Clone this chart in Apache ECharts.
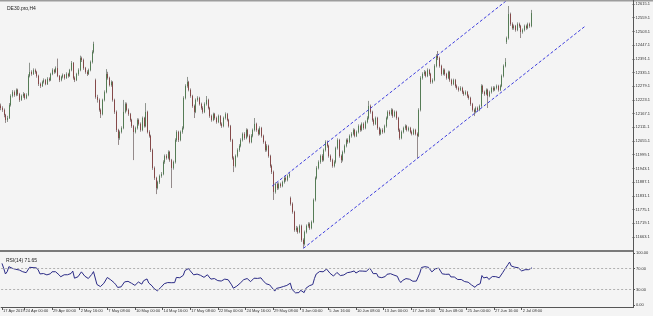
<!DOCTYPE html>
<html><head><meta charset="utf-8">
<script src="https://cdn.jsdelivr.net/npm/echarts@6/dist/echarts.min.js"></script>
<style>html,body{margin:0;padding:0;background:#f4f4f4}#c{width:653px;height:316px}</style>
</head><body><div id="c"></div>
<script>
const symbolTitle = 'DE30.pro,H4';
const rsiTitle = 'RSI(14) 71.65';
const slotCount = 366;
const dateLabels = ['17 Apr 2019','24 Apr 00:00','29 Apr 00:00','2 May 16:00','7 May 08:00','10 May 00:00','14 May 16:00','17 May 08:00','22 May 00:00','24 May 16:00','29 May 08:00','3 Jun 00:00','5 Jun 16:00','10 Jun 08:00','13 Jun 00:00','17 Jun 16:00','20 Jun 08:00','25 Jun 00:00','27 Jun 16:00','2 Jul 08:00'];
const dateLabelBars = [0,13,29,45,61,77,93,109,125,141,157,173,189,205,221,237,253,269,285,301];
const priceTicks = [11663.1,11719.1,11775.1,11831.1,11887.1,11943.1,11999.1,12055.1,12111.1,12167.1,12223.1,12279.1,12335.1,12391.1,12447.1,12503.1,12559.1,12615.1];
const rsiTicks = [0,30,70,100];
const rsiLevels = [30,70];
const upperChannel = [[157,11871],[338,12883]];
const lowerChannel = [[175,11616],[338,12524]];
// RSI readings of the first 14 bars (history before the visible window is not available)
const rsiLead = [80,70.5,59.6,64,73.7,74.7,70.5,72.4,68.6,70.5,67.3,66,64,66];

const opens = [
12200,12190,12182,12161,12141,12149,12202,12239,12255,12243,12264,12247,12223,12239,12247,12231,
12243,12321,12337,12329,12345,12337,12321,12288,12280,12296,12304,12288,12309,12304,12329,12345,
12337,12353,12321,12304,12317,12325,12313,12329,12321,12345,12374,12313,12304,12329,12345,12394,
12386,12353,12337,12329,12345,12378,12419,12304,12235,12223,12182,12165,12223,12255,12329,12313,
12284,12296,12223,12174,12100,12067,12092,12108,12174,12206,12182,12165,12141,12116,12092,12108,
12141,12125,12100,12149,12116,12174,12092,12076,12018,11945,11904,11863,11887,11912,11920,11969,
11994,11986,12010,11977,11945,11969,12059,12092,12059,12092,12108,12231,12280,12296,12264,12239,
12198,12174,12223,12231,12206,12190,12174,12206,12223,12190,12157,12141,12165,12149,12133,12157,
12125,12116,12149,12165,12141,12116,12059,11986,11953,11994,12018,12035,12059,12084,12067,12100,
12076,12051,12076,12100,12125,12100,12084,12108,12076,12051,12018,12035,11994,11953,11928,11847,
11879,11863,11879,11871,11887,11904,11896,11912,11822,11798,11765,11691,11699,11683,11708,11650,
11634,11683,11708,11716,11699,11724,11814,11904,11945,11969,11994,11977,12018,12051,12035,11994,
11977,11953,11969,12026,12059,11994,11977,12010,12035,12059,12051,12076,12084,12100,12076,12092,
12116,12100,12125,12108,12133,12149,12198,12174,12141,12125,12149,12108,12084,12100,12092,12116,
12149,12174,12165,12182,12157,12174,12149,12100,12067,12092,12108,12116,12100,12108,12092,12084,
12100,12084,12076,12182,12313,12329,12337,12321,12345,12329,12296,12304,12362,12403,12394,12362,
12329,12345,12329,12313,12337,12304,12288,12304,12280,12272,12264,12272,12255,12247,12255,12239,
12231,12206,12182,12174,12190,12182,12198,12280,12255,12247,12264,12239,12255,12272,12264,12272,
12280,12264,12280,12321,12362,12460,12476,12574,12533,12517,12525,12509,12533,12525,12501,12509,
12525,12517,12533,12525];
const closes = [
12190,12182,12161,12141,12149,12202,12239,12255,12243,12264,12247,12223,12239,12247,12231,12243,
12321,12337,12329,12345,12337,12321,12288,12280,12296,12304,12288,12309,12304,12329,12345,12337,
12353,12321,12304,12317,12325,12313,12329,12321,12345,12374,12313,12304,12329,12345,12394,12386,
12353,12337,12329,12345,12378,12419,12452,12235,12223,12182,12165,12223,12255,12329,12313,12284,
12296,12223,12174,12100,12067,12092,12108,12174,12206,12182,12165,12141,12116,12092,12108,12141,
12125,12100,12149,12116,12174,12092,12076,12018,11945,11904,11863,11887,11912,11920,11969,11994,
11986,12010,11977,11945,11969,12059,12092,12059,12092,12108,12231,12280,12296,12264,12239,12198,
12174,12223,12231,12206,12190,12174,12206,12223,12190,12157,12141,12165,12149,12133,12157,12125,
12116,12149,12165,12141,12116,12059,11986,11953,11994,12018,12035,12059,12084,12067,12100,12076,
12051,12076,12100,12125,12100,12084,12108,12076,12051,12018,12035,11994,11953,11928,11847,11879,
11863,11879,11871,11887,11904,11896,11912,11920,11798,11765,11691,11699,11683,11708,11650,11634,
11683,11708,11716,11699,11724,11814,11904,11945,11969,11994,11977,12018,12051,12035,11994,11977,
11953,11969,12026,12059,11994,11977,12010,12035,12059,12051,12076,12084,12100,12076,12092,12116,
12100,12125,12108,12133,12149,12198,12174,12141,12125,12149,12108,12084,12100,12092,12116,12149,
12174,12165,12182,12157,12174,12149,12100,12067,12092,12108,12116,12100,12108,12092,12084,12100,
12084,12076,12182,12313,12329,12337,12321,12345,12329,12296,12304,12362,12403,12394,12362,12329,
12345,12329,12313,12337,12304,12288,12304,12280,12272,12264,12272,12255,12247,12255,12239,12231,
12206,12182,12174,12190,12182,12198,12280,12255,12247,12264,12239,12255,12272,12264,12272,12280,
12264,12280,12321,12362,12378,12476,12574,12533,12517,12525,12509,12533,12525,12501,12509,12525,
12517,12533,12525,12578];
const lows = [
12181,12174,12152,12129,12133,12145,12196,12233,12236,12238,12240,12215,12219,12232,12224,12226,
12238,12315,12322,12325,12330,12314,12280,12272,12276,12290,12283,12284,12298,12300,12324,12330,
12332,12316,12296,12299,12311,12306,12309,12314,12317,12340,12306,12296,12300,12322,12340,12378,
12346,12330,12321,12325,12340,12372,12413,12228,12212,12175,12149,12160,12217,12250,12306,12278,
12277,12216,12166,12092,12039,12060,12086,12103,12168,12176,12158,12134,12109,11977,12086,12102,
12118,12093,12095,12110,12111,12086,12069,12010,11937,11896,11838,11857,11880,11905,11915,11962,
11979,11980,11970,11863,11938,11963,12052,12051,12054,12085,12102,12225,12273,12258,12232,12191,
12149,12169,12216,12200,12183,12167,12169,12200,12184,12150,12134,12136,12142,12126,12128,12118,
12109,12111,12143,12135,12110,12052,11979,11928,11947,11988,12011,12029,12053,12060,12062,12070,
12045,12046,12070,12094,12093,12077,12079,12069,12044,12011,12012,11987,11946,11920,11814,11840,
11855,11857,11864,11866,11881,11889,11890,11905,11791,11758,11684,11684,11676,11678,11643,11618,
11628,11677,11701,11692,11694,11719,11808,11898,11939,11962,11970,11972,12012,12028,11987,11970,
11946,11947,11963,12020,11987,11965,11971,12004,12029,12044,12046,12069,12078,12070,12071,12086,
12093,12095,12101,12103,12127,12143,12167,12134,12118,12120,12101,12077,12079,12085,12087,12110,
12143,12158,12159,12150,12152,12142,12093,12060,12062,12086,12101,12094,12094,12086,12078,12079,
12078,11986,12071,12176,12306,12322,12315,12316,12322,12289,12290,12299,12356,12386,12355,12322,
12324,12322,12306,12308,12297,12281,12283,12273,12265,12257,12259,12248,12240,12242,12232,12224,
12199,12175,12157,12168,12175,12177,12192,12248,12240,12242,12190,12234,12249,12257,12259,12266,
12257,12259,12275,12315,12356,12452,12470,12526,12510,12510,12502,12504,12518,12476,12494,12503,
12510,12512,12518,12520];
const highs = [
12208,12197,12188,12166,12158,12210,12246,12263,12262,12270,12269,12252,12245,12255,12251,12250,
12328,12375,12344,12352,12351,12342,12326,12294,12302,12311,12309,12316,12315,12334,12352,12350,
12360,12392,12325,12322,12331,12329,12336,12334,12350,12382,12378,12319,12334,12352,12404,12400,
12392,12358,12344,12351,12384,12426,12461,12310,12244,12229,12188,12228,12262,12349,12338,12318,
12303,12300,12228,12180,12105,12098,12115,12223,12213,12212,12188,12170,12146,12121,12114,12148,
12147,12131,12155,12154,12210,12179,12099,12081,12024,11951,11909,11893,11918,11928,11976,12000,
12001,12017,12015,11982,11975,12066,12099,12097,12098,12115,12238,12287,12317,12301,12270,12244,
12204,12229,12238,12236,12212,12197,12213,12239,12228,12195,12163,12171,12170,12155,12163,12161,
12131,12155,12172,12170,12146,12121,12064,11992,12000,12025,12042,12066,12090,12091,12107,12105,
12082,12083,12106,12149,12130,12106,12115,12113,12081,12056,12042,12040,11999,11959,11934,11886,
11885,11886,11885,11893,11910,11911,11918,11927,11828,11804,11770,11708,11705,11714,11713,11657,
11689,11714,11723,11722,11730,11820,11910,11952,11976,12000,12001,12024,12058,12057,12040,12000,
11983,11976,12032,12066,12064,12000,12016,12041,12065,12066,12082,12091,12107,12105,12098,12123,
12122,12131,12131,12139,12156,12219,12204,12179,12147,12155,12154,12113,12106,12107,12122,12155,
12180,12181,12189,12187,12180,12179,12154,12106,12098,12114,12123,12121,12114,12113,12098,12106,
12105,12090,12189,12320,12336,12345,12342,12352,12350,12334,12311,12369,12410,12423,12400,12367,
12352,12351,12334,12343,12342,12310,12310,12309,12286,12278,12279,12277,12261,12262,12260,12245,
12236,12211,12188,12196,12196,12204,12287,12285,12261,12270,12269,12261,12278,12279,12278,12286,
12285,12286,12327,12368,12394,12482,12607,12580,12540,12531,12530,12540,12539,12530,12515,12531,
12531,12539,12539,12591];

// RSI(14) with Wilder smoothing, continued from the read lead-in values
function calcRSI(cl, n, lead) {
  const out = lead.slice();
  const m0 = lead.length - 1;
  let sumAbs = 0;
  for (let i = 1; i <= m0; i++) sumAbs += Math.abs(cl[i] - cl[i - 1]);
  const meanAbs = sumAbs / m0;
  const rs0 = lead[m0] / (100 - lead[m0]);
  let ag = meanAbs * rs0 / (1 + rs0), al = meanAbs / (1 + rs0);
  for (let i = lead.length; i < cl.length; i++) {
    const d = cl[i] - cl[i - 1];
    ag = (ag * (n - 1) + Math.max(d, 0)) / n;
    al = (al * (n - 1) + Math.max(-d, 0)) / n;
    out.push(al === 0 ? 100 : 100 - 100 / (1 + ag / al));
  }
  return out;
}
const rsiValues = calcRSI(closes, 14, rsiLead);

const categories = Array.from({length: slotCount}, (_, i) => String(i));
const labelMap = {}; dateLabelBars.forEach((b, k) => labelMap[b] = dateLabels[k]);
const isLabelBar = (idx) => labelMap[idx] !== undefined;

const wickData = opens.map((o, i) => [o, closes[i], lows[i], highs[i]]);
const bodyData = opens.map((o, i) => [o, closes[i], Math.min(o, closes[i]), Math.max(o, closes[i])]);

const FONT = 'Liberation Sans';
const chart = echarts.init(document.getElementById('c'), null, {renderer: 'canvas'});
chart.setOption({
  animation: false,
  backgroundColor: '#f4f4f4',
  textStyle: {fontFamily: FONT},
  title: [
    {text: symbolTitle, left: 2, top: 1, textStyle: {fontSize: 5, fontWeight: 'normal', color: '#222', fontFamily: FONT}},
    {text: rsiTitle, left: 1, top: 253, textStyle: {fontSize: 5, fontWeight: 'normal', color: '#222', fontFamily: FONT}}
  ],
  grid: [
    {left: 0, right: 20, top: 0, height: 250},
    {left: 0, right: 20, top: 253, height: 52}
  ],
  xAxis: [
    {type: 'category', gridIndex: 0, data: categories, boundaryGap: true,
     axisLine: {show: true, onZero: false, lineStyle: {color: '#7a7a7a', width: 2}}, offset: 1,
     axisTick: {show: false}, axisLabel: {show: false}, splitLine: {show: false}},
    {type: 'category', gridIndex: 1, data: categories, boundaryGap: true, offset: 2,
     axisLine: {show: true, onZero: false, lineStyle: {color: '#555', width: 1}},
     axisTick: {show: true, alignWithLabel: true, interval: (i) => isLabelBar(i), length: 3, lineStyle: {color: '#555'}},
     axisLabel: {show: true, interval: (i) => isLabelBar(i), formatter: (v) => labelMap[Number(v)] || '',
       fontSize: 4, color: '#333', align: 'left', margin: 2, padding: [0, 0, 0, 1], fontFamily: FONT},
     splitLine: {show: false}}
  ],
  yAxis: [
    {type: 'value', gridIndex: 0, position: 'right', min: 11609.5, max: 12631.5, scale: true,
     axisLine: {show: false}, splitLine: {show: false},
     axisTick: {show: true, customValues: priceTicks, length: 2, lineStyle: {color: '#555'}},
     axisLabel: {show: true, customValues: priceTicks, formatter: (v) => v.toFixed(1), fontSize: 4, color: '#333', margin: 3, fontFamily: FONT}},
    {type: 'value', gridIndex: 1, position: 'right', min: 0, max: 100,
     axisLine: {show: false}, splitLine: {show: false},
     axisTick: {show: true, customValues: rsiTicks, length: 2, lineStyle: {color: '#555'}},
     axisLabel: {show: true, customValues: rsiTicks, formatter: (v) => v.toFixed(2), fontSize: 4, color: '#333', margin: 3, fontFamily: FONT}}
  ],
  graphic: [
    {type: 'rect', shape: {x: 0, y: 0, width: 653, height: 1.5}, style: {fill: '#9c9c9c'}, z: 100},
    {type: 'line', shape: {x1: 633.5, y1: 0, x2: 633.5, y2: 308}, style: {stroke: '#555', lineWidth: 1}, z: 100}
  ],
  series: [
    {type: 'candlestick', name: 'wicks', xAxisIndex: 0, yAxisIndex: 0, data: wickData, barWidth: 0.6,
     itemStyle: {color: '#8e948e', color0: '#948a8a', borderColor: '#8e948e', borderColor0: '#948a8a', borderWidth: 1}},
    {type: 'candlestick', name: 'bodies', xAxisIndex: 0, yAxisIndex: 0, data: bodyData, barWidth: 1.2,
     itemStyle: {color: '#2f6b2f', color0: '#7a1c1c', borderColor: '#2f6b2f', borderColor0: '#7a1c1c', borderWidth: 0.6}},
    {type: 'line', name: 'upper', xAxisIndex: 0, yAxisIndex: 0, data: upperChannel, symbol: 'none', clip: true,
     lineStyle: {color: '#3d3ddd', width: 1, type: [3, 2]}},
    {type: 'line', name: 'lower', xAxisIndex: 0, yAxisIndex: 0, data: lowerChannel, symbol: 'none', clip: true,
     lineStyle: {color: '#3d3ddd', width: 1, type: [3, 2]}},
    {type: 'line', name: 'RSI', xAxisIndex: 1, yAxisIndex: 1, data: rsiValues, symbol: 'none',
     lineStyle: {color: '#2a2a86', width: 1},
     markLine: {silent: true, symbol: 'none', label: {show: false},
       lineStyle: {color: '#b0b0b0', type: [2, 2], width: 1},
       data: rsiLevels.map(v => ({yAxis: v}))}}
  ]
});
</script></body></html>
